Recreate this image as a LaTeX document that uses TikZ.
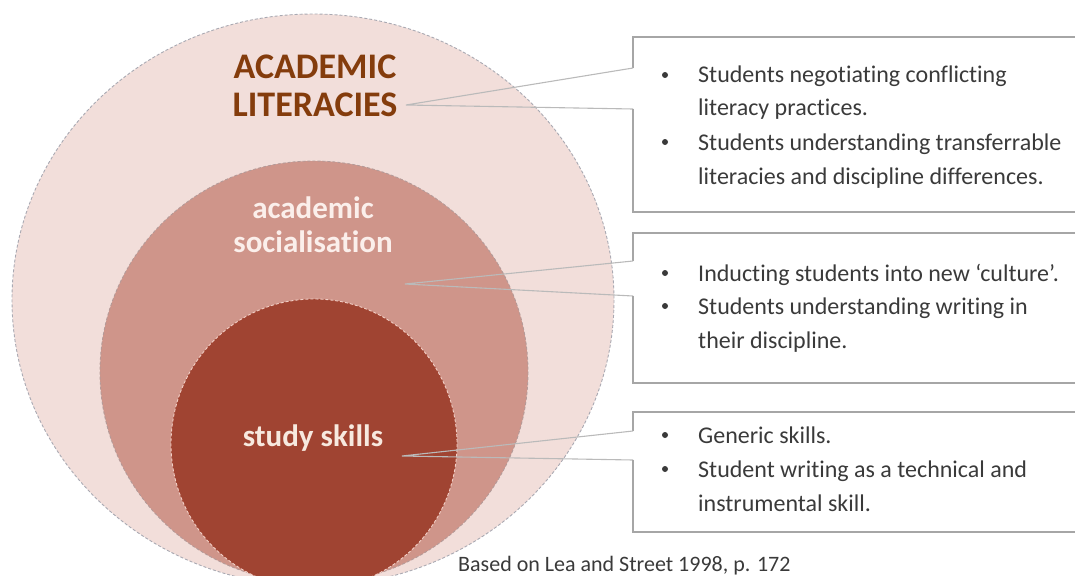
\documentclass[tikz,border=0pt]{standalone}
\usepackage{fontspec}
\setmainfont{Carlito}[Ligatures={NoCommon}]
\definecolor{outerfill}{HTML}{F2DEDA}
\definecolor{midfill}{HTML}{CF958A}
\definecolor{innerfill}{HTML}{A04432}
\definecolor{outerline}{HTML}{A9A9B2}
\definecolor{midline}{HTML}{B49A98}
\definecolor{innerline}{HTML}{F2CFC6}
\definecolor{titlebrown}{HTML}{843C0C}
\definecolor{lightlabel}{HTML}{FBEFEB}
\definecolor{skilltext}{HTML}{F7E9DF}
\definecolor{textgray}{HTML}{3A3A3A}
\definecolor{boxgray}{HTML}{A6A6A6}
\definecolor{pointgray}{HTML}{BABABA}
\begin{document}
\begin{tikzpicture}[x=1pt,y=-1pt,
  ring/.style={dash pattern=on 3pt off 2pt, line width=0.9pt},
  callout/.style={draw=boxgray, line width=1.1pt, line join=miter},
  pointer/.style={draw=pointgray, line width=1.1pt},
  bul/.style={circle, fill=textgray, inner sep=0pt, minimum size=6pt},
  itemtext/.style={anchor=base west, inner sep=0pt, text=textgray, font=\fontsize{24}{34}\selectfont},
  headtext/.style={anchor=base, inner sep=0pt, text=titlebrown, font=\fontsize{36}{41}\selectfont\bfseries},
  ringlabel/.style={anchor=base, inner sep=0pt, text=lightlabel, font=\fontsize{31}{35}\selectfont\bfseries}
]
\useasboundingbox (0,0) rectangle (1075,575);
\begin{scope}
  \clip (0,0) rectangle (1075,575);
  \draw[ring, draw=outerline, fill=outerfill] (313,300) ellipse [x radius=301, y radius=286];
  \draw[ring, draw=midline, fill=midfill] (314,372) ellipse [x radius=214, y radius=211];
  \draw[ring, draw=innerline, fill=innerfill] (314,444) ellipse [x radius=143, y radius=145];
\end{scope}

% labels in the rings
\node[headtext] (acad) at (315,79) {ACADEMIC};
\node[headtext] (lit) at (315,117) {LITERACIES};
\node[ringlabel] (soc1) at (313,218) {academic};
\node[ringlabel] (soc2) at (313,252) {socialisation};
\node[ringlabel, text=skilltext] (ss) at (313,446) {study skills};

% pointer tips
\coordinate (t1) at (406,105);
\coordinate (t2) at (405,284);
\coordinate (t3) at (402,456);

% callout outlines
\draw[callout] (1085,37) -- (633,37) -- (633,68);
\draw[pointer] (633,68) -- (t1) -- (633,109);
\draw[callout] (633,109) -- (633,212) -- (1085,212);

\draw[callout] (1085,233) -- (633,233) -- (633,261);
\draw[pointer] (633,261) -- (t2) -- (633,296);
\draw[callout] (633,296) -- (633,383) -- (1085,383);

\draw[callout] (1085,412) -- (633,412) -- (633,431);
\draw[pointer] (633,431) -- (t3) -- (633,460);
\draw[callout] (633,460) -- (633,532) -- (1085,532);

% box 1
\node[bul] (d1a) at (665,75) {};
\node[itemtext] (l1a) at (698,83) {Students negotiating conflicting};
\node[itemtext] (l1b) at (698,116) {literacy practices.};
\node[bul] (d1b) at (665,142) {};
\node[itemtext] (l1c) at (698,150) {Students understanding transferrable};
\node[itemtext] (l1d) at (698,184) {literacies and discipline differences.};

% box 2
\node[bul] (d2a) at (665,273) {};
\node[itemtext] (l2a) at (698,281) {Inducting students into new ‘culture’.};
\node[bul] (d2b) at (665,306) {};
\node[itemtext] (l2b) at (698,314) {Students understanding writing in};
\node[itemtext] (l2c) at (698,348) {their discipline.};

% box 3
\node[bul] (d3a) at (665,435) {};
\node[itemtext] (l3a) at (698,443) {Generic skills.};
\node[bul] (d3b) at (665,469) {};
\node[itemtext] (l3b) at (698,477) {Student writing as a technical and};
\node[itemtext] (l3c) at (698,511) {instrumental skill.};

% source
\node[anchor=base west, inner sep=0pt, text=textgray, font=\fontsize{22}{26}\selectfont] (src) at (458,571) {Based on Lea and Street 1998, p. 172};
\end{tikzpicture}
\end{document}
